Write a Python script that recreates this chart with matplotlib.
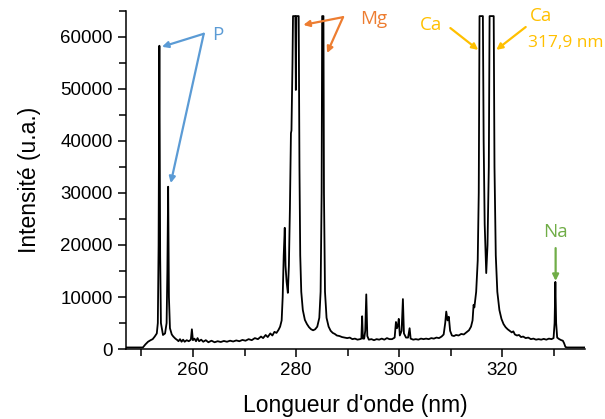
import matplotlib.pyplot as plt
from matplotlib.ticker import MultipleLocator

# spectrum (nm, u.a.)
wavelength = [
    247.0, 250.3, 250.8, 251.3, 251.8, 252.2, 252.6, 253.0, 253.2, 253.35,
    253.5, 253.65, 253.8, 254.2, 254.6, 254.9, 255.05, 255.2, 255.35, 255.55,
    255.9, 256.2, 256.6, 257.0, 257.2, 257.5, 257.8, 258.1, 258.4, 258.8,
    259.2, 259.6, 259.8, 260.0, 260.3, 260.6, 260.9, 261.2, 261.6, 262.0,
    262.5, 263.0, 263.6, 264.2, 264.8, 265.4, 266.0, 266.6, 267.2, 267.8,
    268.4, 269.0, 269.6, 270.2, 270.8, 271.4, 272.0, 272.6, 273.2, 273.6,
    274.1, 274.5, 275.0, 275.4, 275.8, 276.2, 276.6, 276.9, 277.2, 277.4,
    277.6, 277.8, 277.95, 278.15, 278.4, 278.6, 278.8, 279.0, 279.1, 279.3,
    279.4, 279.85, 279.95, 280.05, 280.5, 280.65, 280.8, 281.0, 281.3, 281.7,
    282.1, 282.5, 282.9, 283.3, 283.7, 284.1, 284.5, 284.75, 284.95, 285.05,
    285.3, 285.4, 285.6, 285.9, 286.3, 286.7, 287.1, 287.5, 287.9, 288.4,
    288.9, 289.4, 289.9, 290.4, 290.9, 291.4, 291.9, 292.4, 292.65, 292.8,
    292.95, 293.2, 293.4, 293.6, 293.8, 294.1, 294.6, 295.1, 295.6, 296.1,
    296.6, 297.1, 297.6, 298.1, 298.6, 299.1, 299.35, 299.55, 299.75, 299.9,
    300.1, 300.45, 300.7, 300.9, 301.3, 301.7, 302.0, 302.2, 302.7, 303.2,
    303.7, 304.2, 304.7, 305.2, 305.7, 306.2, 306.7, 307.2, 307.7, 308.2,
    308.6, 308.9, 309.1, 309.35, 309.6, 309.85, 310.2, 310.6, 311.0, 311.5,
    312.0, 312.5, 313.0, 313.5, 313.9, 314.2, 314.4, 314.55, 314.9, 315.2,
    315.4, 315.55, 316.2, 316.35, 316.55, 316.85, 317.1, 317.35, 317.5, 318.3,
    318.45, 318.7, 319.0, 319.4, 319.8, 320.2, 320.6, 321.0, 321.4, 321.8,
    322.1, 322.4, 322.8, 323.2, 323.6, 324.0, 324.5, 325.0, 325.5, 326.0,
    326.5, 327.0, 327.5, 328.0, 328.5, 329.0, 329.5, 329.9, 330.1, 330.25,
    330.4, 330.6, 331.0, 331.4, 331.7, 331.95, 332.2, 332.5, 336.0,
]
intensity = [
    300, 300, 900, 1400, 1700, 1900, 2400, 3000, 5000, 20000,
    58300, 18000, 5000, 2700, 3000, 5000, 15000, 31200, 10000, 4000,
    2800, 2400, 2000, 1700, 1500, 1900, 1400, 1800, 1400, 1700,
    1500, 1800, 3800, 1700, 2000, 1500, 2100, 1500, 1800, 1400,
    1700, 1300, 1600, 1300, 1500, 1350, 1550, 1400, 1600, 1450,
    1650, 1500, 1750, 1600, 1900, 1700, 2100, 1900, 2400, 2100,
    2700, 2300, 3000, 2600, 3300, 3100, 3700, 4300, 5500, 10000,
    18000, 23300, 16000, 13000, 10800, 16000, 27000, 41500, 42000, 55000,
    64000, 64000, 49800, 64000, 64000, 35000, 18000, 11000, 7500, 5600,
    4800, 4200, 3800, 3600, 3800, 4300, 6000, 11000, 30000, 64000,
    64000, 30000, 11000, 6000, 4300, 3500, 3100, 2900, 2600, 2500,
    2300, 2200, 2100, 2200, 1900, 2000, 1800, 1900, 2000, 6300,
    2000, 2000, 3500, 10500, 2500, 1800, 1900, 1700, 1900, 1800,
    2000, 1800, 2100, 1900, 1900, 2200, 5200, 4000, 4600, 5800,
    2600, 3500, 9600, 3000, 2200, 2200, 4000, 2000, 1800, 1900,
    1800, 2000, 1900, 2000, 1900, 2100, 2000, 2200, 2100, 2400,
    2800, 5000, 7200, 5500, 6200, 3500, 2600, 2500, 2700, 2600,
    2900, 2800, 3200, 3600, 4300, 5500, 8500, 8000, 11000, 17000,
    30000, 64000, 64000, 40000, 24000, 14600, 20000, 35000, 64000, 64000,
    35000, 18000, 11000, 7500, 5800, 4800, 4200, 3800, 3500, 3200,
    3400, 2800, 2600, 2700, 2300, 2400, 2100, 2200, 1900, 2000,
    1800, 1900, 1800, 1950, 1800, 2000, 1900, 2100, 5000, 12900,
    5000, 2200, 1900, 1700, 1600, 1100, 400, 300, 300,
]

blue = '#5B9BD5'
orange = '#ED7D31'
gold = '#FFC000'
green = '#70AD47'

px = 1/plt.rcParams['figure.dpi']
fig = plt.figure(figsize=(605*px, 419*px))
ax = fig.add_axes([0.208, 0.167, 0.759, 0.807])

ax.plot(wavelength, intensity, color='black', lw=1.3)

ax.set_xlim(247, 336)
ax.set_ylim(0, 65000)
ax.xaxis.set_major_locator(MultipleLocator(20))
ax.xaxis.set_minor_locator(MultipleLocator(10))
ax.yaxis.set_major_locator(MultipleLocator(10000))
ax.yaxis.set_minor_locator(MultipleLocator(5000))
ax.tick_params(which='major', direction='out', length=6, width=1.1,
               labelsize=13.5, labelfontfamily='Liberation Sans')
ax.tick_params(which='minor', direction='out', length=5, width=1.1)
ax.spines['top'].set_visible(False)
ax.spines['right'].set_visible(False)
ax.spines['left'].set_linewidth(1.1)
ax.spines['bottom'].set_linewidth(1.1)

ax.set_xlabel("Longueur d'onde (nm)", fontsize=16.5, family='Liberation Sans', labelpad=11)
ax.set_ylabel('Intensité (u.a.)', fontsize=16.5, family='Liberation Sans', labelpad=14)


def arrow(tip, origin, color):
    ax.annotate('', xy=tip, xytext=origin,
                arrowprops=dict(arrowstyle='-|>', color=color, lw=1.6,
                                mutation_scale=9, shrinkA=0, shrinkB=0))


lf = 'Open Sans'
fs = 13.5
# P
ax.text(264.8, 60300, 'P', color=blue, fontsize=fs, family=lf, va='center', ha='center')
arrow((254.0, 58100), (262.1, 60600), blue)
arrow((255.7, 31900), (262.1, 60600), blue)
# Mg
ax.text(295.0, 63500, 'Mg', color=orange, fontsize=fs, family=lf, va='center', ha='center')
arrow((281.4, 62300), (289.1, 63800), orange)
arrow((286.0, 56900), (289.1, 63800), orange)
# Ca
ax.text(306.2, 62300, 'Ca', color=gold, fontsize=fs, family=lf, va='center', ha='center')
arrow((315.3, 57500), (309.9, 61700), gold)
ax.text(327.4, 64000, 'Ca', color=gold, fontsize=fs, family=lf, va='center', ha='center')
ax.text(325.0, 58900, '317,9 nm', color=gold, fontsize=12.5, family=lf, va='center', ha='left',
        clip_on=False)
arrow((318.8, 57500), (324.5, 61900), gold)
# Na
ax.text(330.3, 22500, 'Na', color=green, fontsize=fs, family=lf, va='center', ha='center')
arrow((330.3, 13100), (330.3, 19400), green)

plt.savefig('out.png')
